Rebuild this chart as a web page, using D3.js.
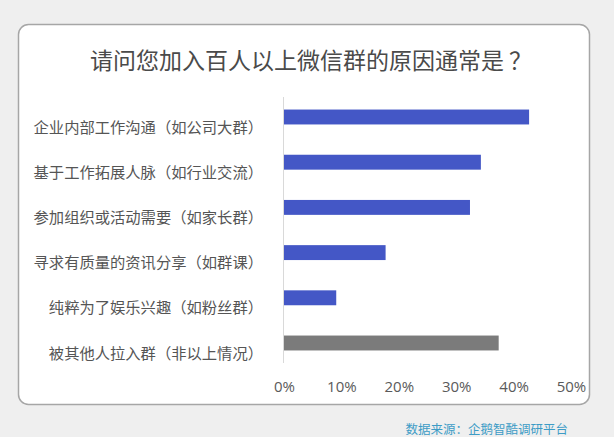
<!DOCTYPE html>
<html>
<head>
<meta charset="utf-8">
<script src="https://cdn.jsdelivr.net/npm/d3@7"></script>
<style>
  html, body { margin: 0; padding: 0; background: #efefef; }
  svg { display: block; }
</style>
</head>
<body>
<svg id="chart" width="614" height="437"></svg>
<script>
const title = "请问您加入百人以上微信群的原因通常是 ？";
const categories = [
  "企业内部工作沟通（如公司大群）",
  "基于工作拓展人脉（如行业交流）",
  "参加组织或活动需要（如家长群）",
  "寻求有质量的资讯分享（如群课）",
  "纯粹为了娱乐兴趣（如粉丝群）",
  "被其他人拉入群（非以上情况）"
];
const values = [42.7, 34.3, 32.4, 17.7, 9.1, 37.4];
const highlight = [false, false, false, false, false, true];
const tickValues = [0, 10, 20, 30, 40, 50];
const source = "数据来源：企鹅智酷调研平台";

const svg = d3.select("#chart");
const cjk = "'Noto Sans CJK SC', 'Noto Sans', sans-serif";

// background & frame
svg.append("rect").attr("width", 614).attr("height", 437).attr("fill", "#efefef");
svg.append("rect")
  .attr("x", 18.5).attr("y", 24.5).attr("width", 571).attr("height", 380)
  .attr("rx", 10).attr("ry", 10)
  .attr("fill", "#ffffff").attr("stroke", "#a6a6a6").attr("stroke-width", 1.5);

// title
svg.append("text")
  .attr("x", 311).attr("y", 59)
  .attr("text-anchor", "middle").attr("dominant-baseline", "central")
  .attr("font-family", cjk).attr("font-size", 23).attr("fill", "#4a4a4a")
  .text(title);

const x = d3.scaleLinear().domain([0, 50]).range([284, 571]);
const y = d3.scaleBand().domain(categories).range([94.4, 365.6])
  .paddingInner(0.67).paddingOuter(0.335);

// vertical axis line
svg.append("line")
  .attr("x1", x(0) - 0.5).attr("x2", x(0) - 0.5)
  .attr("y1", 97).attr("y2", 363)
  .attr("stroke", "#d9d9d9").attr("stroke-width", 1);

// bars
svg.append("g").selectAll("rect")
  .data(categories)
  .join("rect")
  .attr("x", x(0))
  .attr("y", d => y(d))
  .attr("width", (d, i) => x(values[i]) - x(0))
  .attr("height", y.bandwidth())
  .attr("fill", (d, i) => highlight[i] ? "#7b7b7b" : "#4457c6");

// category labels
svg.append("g").selectAll("text")
  .data(categories)
  .join("text")
  .attr("x", 263)
  .attr("y", d => y(d) + y.bandwidth() / 2 + 8.5)
  .attr("text-anchor", "end").attr("dominant-baseline", "central")
  .attr("font-family", cjk).attr("font-size", 15.3).attr("fill", "#555555")
  .text(d => d);

// x axis tick labels
const xAxis = d3.axisBottom(x).tickValues(tickValues).tickFormat(d => d + "%").tickSize(0).tickPadding(0);
const gx = svg.append("g").attr("transform", "translate(0,381)").call(xAxis);
gx.select(".domain").remove();
gx.selectAll("text")
  .attr("font-family", "'Open Sans', 'Noto Sans', sans-serif")
  .attr("font-size", 15).attr("fill", "#5a5a5a");

// source
svg.append("text")
  .attr("x", 568).attr("y", 428.5)
  .attr("text-anchor", "end").attr("dominant-baseline", "central")
  .attr("font-family", cjk).attr("font-size", 12.5).attr("fill", "#3d9cc6")
  .text(source);
</script>
</body>
</html>
